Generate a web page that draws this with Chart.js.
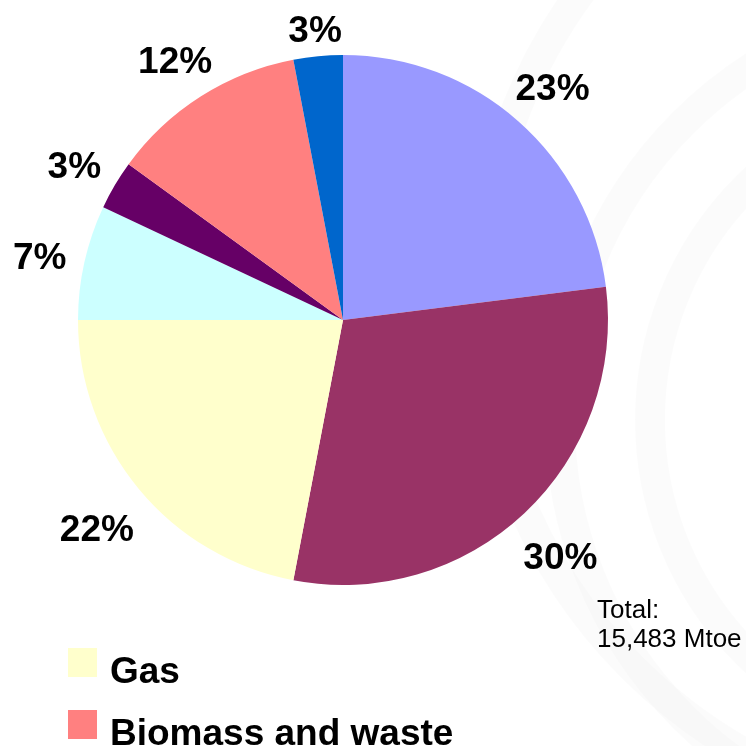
<!DOCTYPE html>
<html>
<head>
<meta charset="utf-8">
<script src="https://cdn.jsdelivr.net/npm/chart.js@4.4.1/dist/chart.umd.min.js"></script>
<style>
  html, body { margin: 0; padding: 0; background: #fff; overflow: hidden; }
  #wrap { width: 746px; height: 746px; position: relative; }
</style>
</head>
<body>
<div id="wrap"><canvas id="pieChart" width="746" height="746"></canvas></div>
<script>
var categories = ["Coal", "Oil", "Gas", "Nuclear", "Hydro", "Biomass and waste", "Other renewables"];
var shares = [23, 30, 22, 7, 3, 12, 3];
var sliceColors = ["#9999FF", "#993366", "#FFFFCC", "#CCFFFF", "#660066", "#FF8080", "#0066CC"];
var legendShown = ["Gas", "Biomass and waste"];
var totalLines = ["Total:", "15,483 Mtoe"];

var FONT = "'Liberation Sans', Arial, Helvetica, sans-serif";

// very faint watermark bands behind everything
var watermark = {
    id: 'watermark',
    beforeDraw: function (chart) {
        var ctx = chart.ctx;
        ctx.save();
        ctx.strokeStyle = 'rgba(0,0,0,0.015)';
        ctx.lineWidth = 30;
        [[980, 420, 420], [980, 420, 330], [1000, 300, 520]].forEach(function (c) {
            ctx.beginPath();
            ctx.arc(c[0], c[1], c[2], 0, Math.PI * 2);
            ctx.stroke();
        });
        ctx.restore();
    }
};

// percentage labels just outside each slice
var outsideLabels = {
    id: 'outsideLabels',
    afterDatasetsDraw: function (chart) {
        var ctx = chart.ctx;
        var meta = chart.getDatasetMeta(0);
        var data = chart.data.datasets[0].data;
        ctx.save();
        ctx.font = "bold 37px " + FONT;
        ctx.fillStyle = '#000';
        ctx.textAlign = 'center';
        ctx.textBaseline = 'middle';
        meta.data.forEach(function (arc, i) {
            var p = arc.getProps(['x', 'y', 'startAngle', 'endAngle', 'outerRadius'], true);
            var mid = (p.startAngle + p.endAngle) / 2;
            var txt = data[i] + '%';
            var halfW = ctx.measureText(txt).width / 2 + 4;
            var halfH = 13 + 4;
            var cx = Math.cos(mid), cy = Math.sin(mid);
            var dist = p.outerRadius + 12 + Math.abs(cx) * halfW + Math.abs(cy) * halfH;
            ctx.fillText(txt, p.x + cx * dist, p.y + cy * dist + 7);
        });
        ctx.restore();
    }
};

// legend column and total note
var sideNotes = {
    id: 'sideNotes',
    afterDraw: function (chart) {
        var ctx = chart.ctx;
        ctx.save();
        ctx.font = "bold 37px " + FONT;
        ctx.textBaseline = 'alphabetic';
        legendShown.forEach(function (name, k) {
            var idx = categories.indexOf(name);
            var top = 648 + k * 62;
            ctx.fillStyle = sliceColors[idx];
            ctx.fillRect(68, top, 29, 29);
            ctx.fillStyle = '#000';
            ctx.fillText(name, 110, top + 35);
        });
        ctx.font = "26px " + FONT;
        totalLines.forEach(function (line, k) {
            ctx.fillText(line, 597, 618 + k * 29);
        });
        ctx.restore();
    }
};

var ctxP = document.getElementById("pieChart").getContext('2d');
var pieChart = new Chart(ctxP, {
    type: 'pie',
    data: {
        labels: categories,
        datasets: [{
            data: shares,
            backgroundColor: sliceColors,
            borderWidth: 0,
            hoverOffset: 0
        }]
    },
    options: {
        responsive: false,
        animation: false,
        layout: {
            padding: { left: 78, top: 55, right: 138, bottom: 161 }
        },
        plugins: {
            legend: { display: false },
            tooltip: { enabled: false }
        }
    },
    plugins: [watermark, outsideLabels, sideNotes]
});
</script>
</body>
</html>
